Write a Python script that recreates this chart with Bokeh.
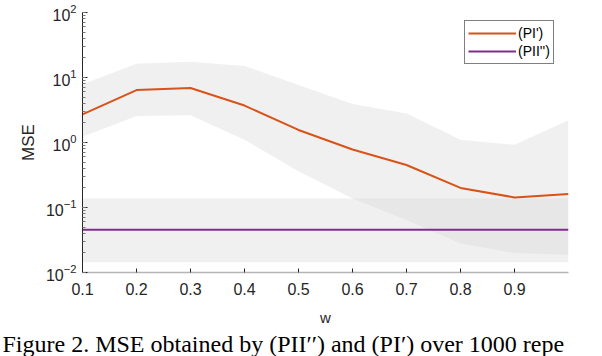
from bokeh.plotting import figure
from bokeh.models import Range1d, FixedTicker, Legend, LegendItem, Title, LogTicker
from bokeh.embed import file_html
from bokeh.resources import INLINE

# ---- data ----
w = [0.1, 0.2, 0.3, 0.4, 0.5, 0.6, 0.7, 0.8, 0.9, 1.0]
pi_mean = [2.7, 6.4, 6.9, 3.7, 1.56, 0.78, 0.45, 0.20, 0.143, 0.161]
pi_upper = [7.9, 16.3, 17.5, 15.0, 7.7, 3.9, 2.8, 1.1, 0.92, 2.2]
pi_lower = [1.23, 2.56, 2.63, 1.1, 0.36, 0.137, 0.064, 0.028, 0.020, 0.0187]
pii_mean = [0.0453, 0.0453, 0.0453, 0.0453, 0.0453, 0.0453, 0.0453, 0.0453, 0.0453, 0.0453]
pii_upper = [0.138, 0.138, 0.138, 0.138, 0.138, 0.138, 0.138, 0.138, 0.138, 0.138]
pii_lower = [0.0144, 0.0144, 0.0144, 0.0144, 0.0144, 0.0144, 0.0144, 0.0144, 0.0144, 0.0144]
x_ticks = [0.1, 0.2, 0.3, 0.4, 0.5, 0.6, 0.7, 0.8, 0.9]
x_tick_labels = ["0.1", "0.2", "0.3", "0.4", "0.5", "0.6", "0.7", "0.8", "0.9"]
series_names = ["(PI')", "(PII'')"]
caption = "Figure 2. MSE obtained by (PII\u2032\u2032) and (PI\u2032) over 1000 repe"

FONT = "Liberation Sans"
AX = "#262626"

p = figure(width=602, height=356, y_axis_type="log",
           x_range=Range1d(0.1, 1.0), y_range=Range1d(0.01, 100),
           output_backend="svg", toolbar_location=None,
           min_border_left=82, min_border_right=34, min_border_top=12,
           min_border_bottom=83)
p.outline_line_color = None
p.xgrid.visible = False
p.ygrid.visible = False
p.background_fill_color = "white"

# bands
p.varea(x=w, y1=pi_lower, y2=pi_upper, fill_color="#d9d9d9", fill_alpha=0.4)
p.varea(x=w, y1=pii_lower, y2=pii_upper, fill_color="#d9d9d9", fill_alpha=0.4)

r1 = p.line(w, pi_mean, line_color="#D95319", line_width=2)
r2 = p.line(w, pii_mean, line_color="#7E2F8E", line_width=2)

legend = Legend(items=[LegendItem(label=series_names[0], renderers=[r1]),
                       LegendItem(label=series_names[1], renderers=[r2])],
                location=(382, 208), margin=0, padding=3, spacing=0,
                label_text_font=FONT, label_text_font_size="14px",
                label_text_color="black", glyph_width=48, glyph_height=18,
                label_height=18, label_standoff=2,
                border_line_color="black", border_line_width=1,
                background_fill_color="white", background_fill_alpha=1)
p.add_layout(legend)

# x axis
xa = p.xaxis[0]
xa.ticker = FixedTicker(ticks=x_ticks)
xa.major_label_overrides = {t: l for t, l in zip(x_ticks, x_tick_labels)}
xa.axis_line_color = "#b5b5b5"
xa.axis_line_width = 1.5
xa.major_tick_in = 4
xa.major_tick_out = 0
xa.major_tick_line_color = AX
xa.minor_tick_line_color = None
xa.major_label_text_font = FONT
xa.major_label_text_font_size = "16px"
xa.major_label_text_color = AX
xa.major_label_standoff = 10
xa.axis_label = "w"
xa.axis_label_text_font = FONT
xa.axis_label_text_font_size = "15px"
xa.axis_label_text_font_style = "normal"
xa.axis_label_text_color = AX
xa.axis_label_standoff = 11

# y axis
ya = p.yaxis[0]
ya.ticker = LogTicker(num_minor_ticks=10)
ya.axis_line_color = AX
ya.major_tick_in = 5
ya.major_tick_out = 0
ya.minor_tick_in = 3
ya.minor_tick_out = 0
ya.major_tick_line_color = AX
ya.minor_tick_line_color = "#777777"
ya.major_label_text_font = FONT
ya.major_label_text_font_size = "16px"
ya.major_label_text_color = AX
ya.major_label_standoff = 6
ya.axis_label = "MSE"
ya.axis_label_text_font = FONT
ya.axis_label_text_font_size = "17px"
ya.axis_label_text_font_style = "normal"
ya.axis_label_text_color = AX
ya.axis_label_standoff = 5

cap = Title(text=caption, text_font="Liberation Serif", text_font_size="24px",
            text_font_style="normal", text_color="black", align="left",
            standoff=0, offset=-80)
p.add_layout(cap, "below")

open("out.html", "w").write(file_html(p, INLINE))
